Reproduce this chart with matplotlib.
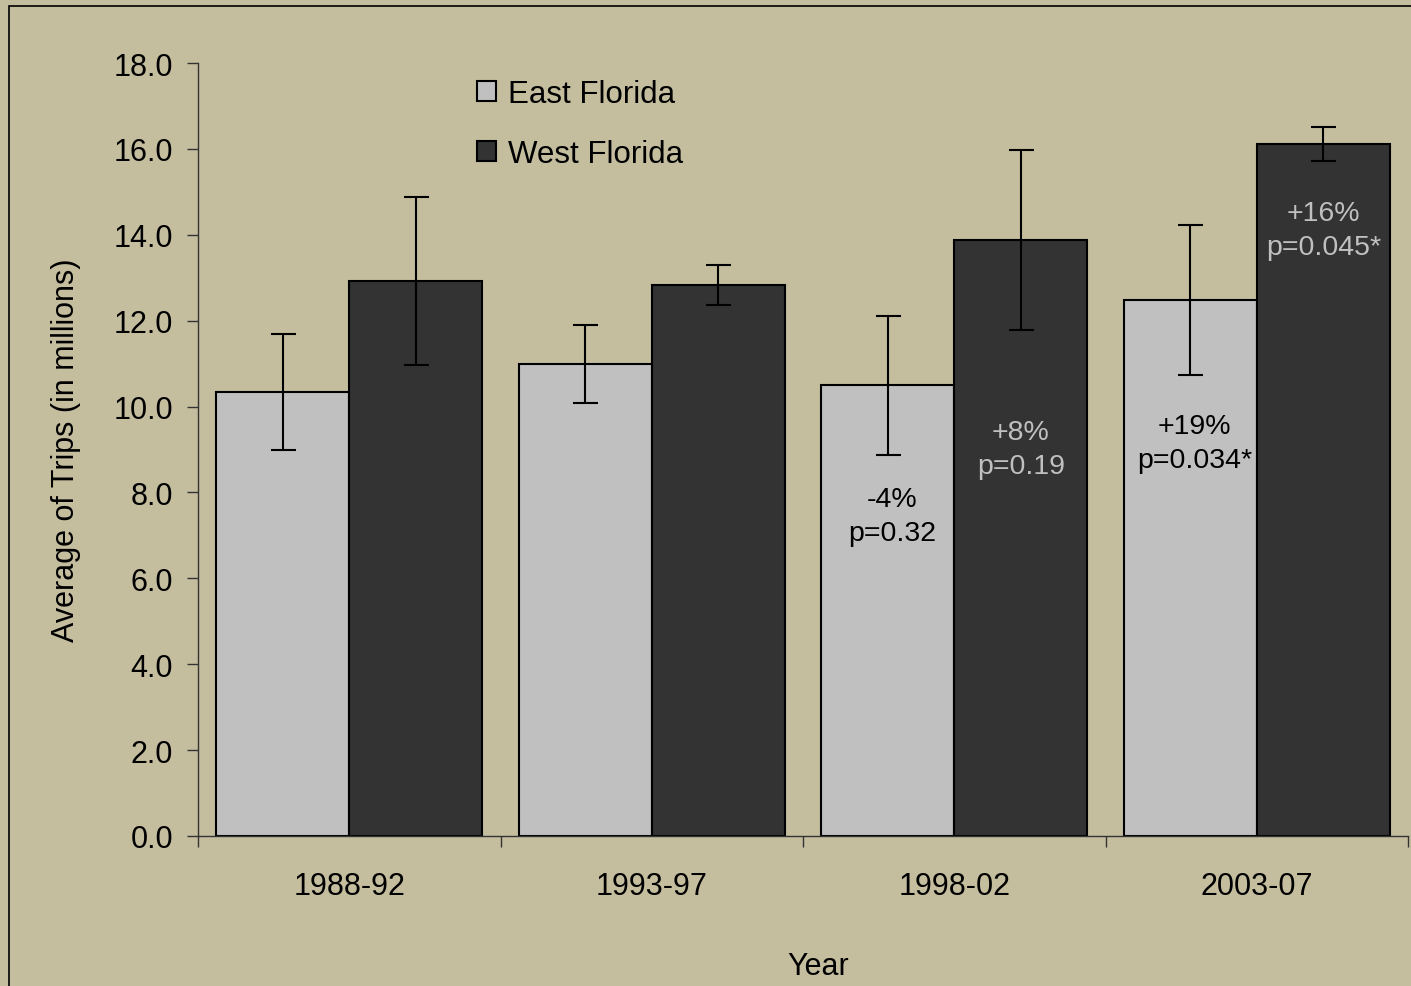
import matplotlib.pyplot as plt
from matplotlib.patches import Rectangle
import numpy as np

plt.rcParams['font.family'] = ['Liberation Sans', 'DejaVu Sans']

years = ['1988-92', '1993-97', '1998-02', '2003-07']
east = [10.34, 10.99, 10.50, 12.48]
east_err = [1.35, 0.91, 1.62, 1.74]
west = [12.92, 12.83, 13.88, 16.12]
west_err = [1.96, 0.47, 2.09, 0.40]

notes_east = ['', '', '-4%\np=0.32', '+19%\np=0.034*']
notes_west = ['', '', '+8%\np=0.19', '+16%\np=0.045*']
note_y_east = [0, 0, 7.45, 9.15]
note_y_west = [0, 0, 9.01, 14.10]

bg = '#C4BE9F'
fs = 22

fig = plt.figure(figsize=(14.11, 9.87), dpi=100, facecolor=bg)
ax = fig.add_axes([198 / 1411, 150 / 987, 1210 / 1411, 773 / 987])
ax.set_facecolor(bg)

# frame around the plot area
fig.patches.append(Rectangle((9 / 1411, -0.1), 1.2, 1 - 7 / 987 + 0.1,
                             transform=fig.transFigure, fill=False,
                             edgecolor='black', linewidth=1.2, clip_on=False))

x = np.arange(len(years))
w = 0.44
ax.bar(x - w / 2, east, w, color='#C0C0C0', edgecolor='black', linewidth=1.5,
       label='East Florida', zorder=2)
ax.bar(x + w / 2, west, w, color='#333333', edgecolor='black', linewidth=1.5,
       label='West Florida', zorder=2)
ax.errorbar(x - w / 2, east, yerr=east_err, fmt='none', ecolor='black',
            elinewidth=1.5, capsize=9, capthick=1.5, zorder=3)
ax.errorbar(x + w / 2, west, yerr=west_err, fmt='none', ecolor='black',
            elinewidth=1.5, capsize=9, capthick=1.5, zorder=3)

for i in range(len(years)):
    if notes_east[i]:
        ax.text(x[i] - w / 2 + 0.015, note_y_east[i], notes_east[i], ha='center',
                va='center', fontsize=20.5, linespacing=1.4, color='black', zorder=4)
    if notes_west[i]:
        ax.text(x[i] + w / 2, note_y_west[i], notes_west[i], ha='center',
                va='center', fontsize=20.5, linespacing=1.4, color='#C0C0C0', zorder=4)

ax.set_xlim(-0.5, 3.5)
ax.set_ylim(0, 18)
ax.set_yticks(np.arange(0, 18.1, 2))
ax.set_yticklabels([f'{v:.1f}' for v in np.arange(0, 18.1, 2)])
ax.set_xticks(np.arange(-0.5, 3.6, 1))
ax.set_xticklabels([])
ax.set_xticks(x, minor=True)
ax.set_xticklabels(years, minor=True)
ax.tick_params(axis='x', which='major', direction='out', length=8, width=1, color='#333333')
ax.tick_params(axis='x', which='minor', length=0, pad=25, labelsize=fs)
ax.tick_params(axis='y', direction='out', length=8, width=1, color='#333333',
               pad=10, labelsize=fs)

for s in ['top', 'right']:
    ax.spines[s].set_visible(False)
for s in ['left', 'bottom']:
    ax.spines[s].set_color('#333333')
    ax.spines[s].set_linewidth(1)

ax.set_ylabel('Average of Trips (in millions)', fontsize=fs, labelpad=23)
fig.text(818 / 1411, 1 - 967 / 987, 'Year', ha='center', va='center', fontsize=fs)

ax.legend(loc='upper left', bbox_to_anchor=(477 / 1411, 1 - 80 / 987),
          bbox_transform=fig.transFigure, frameon=False, fontsize=22.5,
          handlelength=0.62, handleheight=0.62, handletextpad=0.38,
          labelspacing=0.95, borderpad=0, borderaxespad=0)

fig.savefig('out.png', dpi=100, facecolor=bg)
